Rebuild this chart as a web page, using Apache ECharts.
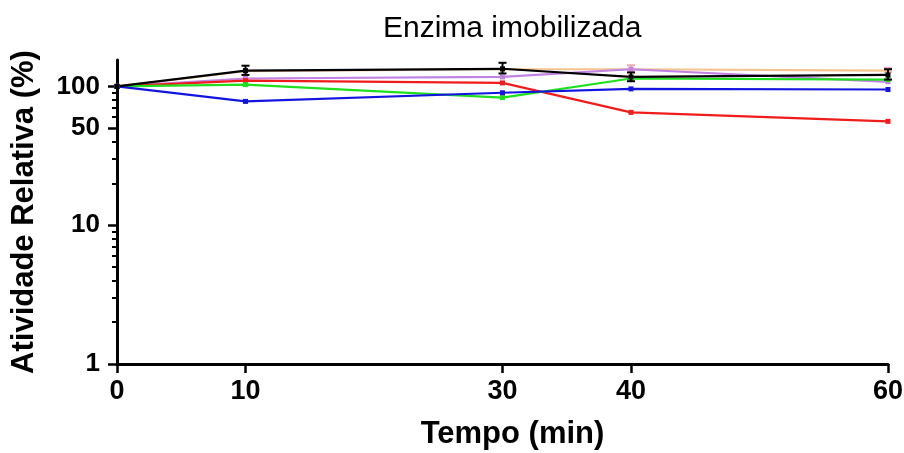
<!DOCTYPE html>
<html>
<head>
<meta charset="utf-8">
<script src="https://cdn.jsdelivr.net/npm/echarts@6/dist/echarts.min.js"></script>
<style>
  html, body { margin: 0; padding: 0; background: #fff; }
  #chart { width: 904px; height: 453px; }
</style>
</head>
<body>
<div id="chart"></div>
<script>
// tempo (min)
const times = [0, 10, 30, 40, 60]
// atividade relativa (%) por série
const redVals = [100, 110, 106, 65, 56]
const blueVals = [100, 78, 90, 96, 95]
const greenVals = [100, 103, 83, 114, 112]
const blackVals = [100, 130, 134, 117, 121]
const purpleVals = [100, 114, 117, 133, 108]
const orangeVals = [100, 129, 133, 133, 130]
// barras de erro
const blackLow = [100, 121, 124, 109, 112]
const blackHigh = [100, 141, 148, 126, 133]
const orangeLow = [100, 129, 133, 130, 127]
const orangeHigh = [100, 129, 133, 142, 136]
// eixos
const xTicks = [0, 10, 30, 40, 60]
const yTicks = [1, 10, 50, 100]
const yMinorTicks = [2, 3, 4, 5, 6, 7, 8, 9, 20, 30, 40, 60, 70, 80, 90]
const yMin = 1
const yMax = 155

const font = "'Liberation Sans', Arial, sans-serif"
const lg = v => Math.log10(v)

function pairs(vals) {
  return times.map((t, i) => [t, vals[i]])
}

function errData(low, high) {
  return times.map((t, i) => [t, low[i], high[i]]).filter(d => d[0] > 0)
}

function errRender(color) {
  return function (params, api) {
    const x = api.value(0)
    const p1 = api.coord([x, api.value(1)])
    const p2 = api.coord([x, api.value(2)])
    const w = 4
    const st = { stroke: color, lineWidth: 2 }
    return {
      type: 'group',
      children: [
        { type: 'line', shape: { x1: p1[0], y1: p1[1], x2: p2[0], y2: p2[1] }, style: st },
        { type: 'line', shape: { x1: p1[0] - w, y1: p1[1], x2: p1[0] + w, y2: p1[1] }, style: st },
        { type: 'line', shape: { x1: p2[0] - w, y1: p2[1], x2: p2[0] + w, y2: p2[1] }, style: st }
      ]
    }
  }
}

function lineSeries(vals, color) {
  return {
    type: 'line',
    data: pairs(vals),
    yAxisIndex: 0,
    symbol: 'rect',
    symbolSize: 5,
    itemStyle: { color: color },
    lineStyle: { color: color, width: 2.2 },
    animation: false
  }
}

const chart = echarts.init(document.getElementById('chart'))
chart.setOption({
  animation: false,
  textStyle: { fontFamily: font },
  title: {
    text: 'Enzima imobilizada',
    left: 378,
    top: 9,
    textStyle: { fontFamily: font, fontSize: 30, fontWeight: 'normal', color: '#000' }
  },
  grid: { left: 117, right: 16, top: 60, bottom: 89, outerBoundsMode: 'none' },
  xAxis: {
    type: 'value',
    min: 0,
    max: 60,
    name: 'Tempo (min)',
    nameLocation: 'middle',
    nameGap: 55,
    nameTextStyle: { fontFamily: font, fontSize: 31, fontWeight: 'bold', color: '#000', padding: [0, 0, 0, 20] },
    axisLine: { lineStyle: { color: '#000', width: 3 } },
    axisTick: { customValues: xTicks, length: 9, lineStyle: { color: '#000', width: 2.5 } },
    axisLabel: { customValues: xTicks, margin: 14, fontFamily: font, fontSize: 27, fontWeight: 'bold', color: '#000' },
    splitLine: { show: false }
  },
  yAxis: [
    {
      // escala log usada pelas séries
      type: 'log',
      logBase: 10,
      min: yMin,
      max: yMax,
      show: false
    },
    {
      // eixo visível (posições em log10)
      type: 'value',
      min: lg(yMin),
      max: lg(yMax),
      position: 'left',
      offset: 0,
      name: 'Atividade Relativa (%)',
      nameLocation: 'middle',
      nameGap: 77,
      nameRotate: 90,
      nameTextStyle: { fontFamily: font, fontSize: 31, fontWeight: 'bold', color: '#000' },
      axisLine: { show: true, lineStyle: { color: '#000', width: 3 } },
      axisTick: { show: true, customValues: yTicks.map(lg), length: 9, lineStyle: { color: '#000', width: 2.5 } },
      axisLabel: {
        customValues: yTicks.map(lg),
        formatter: v => String(Math.round(Math.pow(10, v))),
        margin: 17,
        fontFamily: font, fontSize: 26, fontWeight: 'bold', color: '#000'
      },
      splitLine: { show: false }
    },
    {
      // ticks menores
      type: 'value',
      min: lg(yMin),
      max: lg(yMax),
      position: 'left',
      offset: 0,
      axisLine: { show: false },
      axisTick: { show: true, customValues: yMinorTicks.map(lg), length: 5, lineStyle: { color: '#000', width: 2 } },
      axisLabel: { show: false },
      splitLine: { show: false }
    }
  ],
  series: [
    lineSeries(orangeVals, '#f5c48e'),
    {
      type: 'custom',
      renderItem: errRender('#f2a7b8'),
      data: errData(orangeLow, orangeHigh),
      yAxisIndex: 0,
      z: 3
    },
    lineSeries(purpleVals, '#c183e3'),
    lineSeries(redVals, '#f01c1c'),
    lineSeries(greenVals, '#1fe01f'),
    lineSeries(blueVals, '#1414e0'),
    lineSeries(blackVals, '#000000'),
    {
      type: 'custom',
      renderItem: errRender('#000000'),
      data: errData(blackLow, blackHigh),
      yAxisIndex: 0,
      z: 4
    }
  ]
})
</script>
</body>
</html>
